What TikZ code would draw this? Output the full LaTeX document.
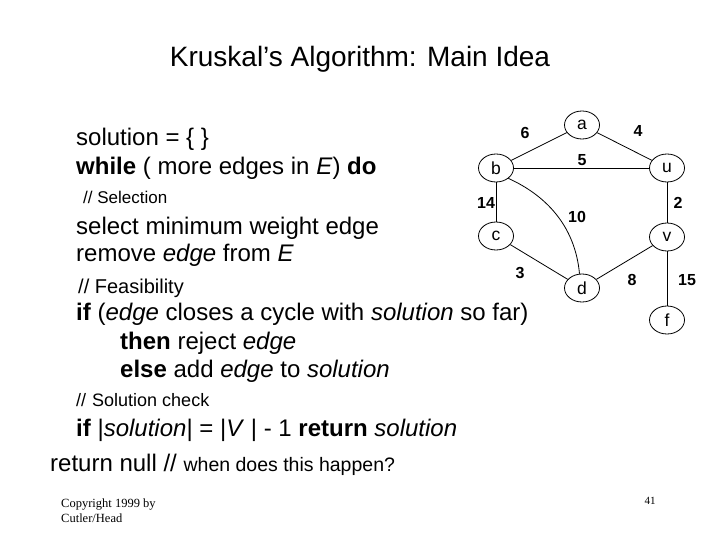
\documentclass[tikz,border=0pt]{standalone}
\usepackage{fontspec}
\setmainfont{Liberation Sans}
\newfontfamily\timesf{Liberation Serif}
\usetikzlibrary{shapes.geometric}
\tikzset{
  vert/.style={ellipse,draw,line width=0.8pt,minimum width=35pt,minimum height=28pt,inner sep=0pt,font=\fontsize{17.5}{19}\selectfont},
  wt/.style={font=\fontsize{16}{18}\selectfont\bfseries,inner sep=0pt},
  edg/.style={line width=0.8pt},
  code/.style={anchor=base west,inner sep=0pt,font=\fontsize{24}{28}\selectfont},
  cmt/.style={anchor=base west,inner sep=0pt,font=\fontsize{17}{20}\selectfont},
  ttl/.style={anchor=base,inner sep=0pt,font=\fontsize{28}{32}\selectfont},
  small/.style={anchor=base west,inner sep=0pt,align=left,font=\timesf\fontsize{12.5}{15}\selectfont}
}
\begin{document}
\begin{tikzpicture}[x=1pt,y=-1pt]
\useasboundingbox (0,0) rectangle (720,540);
% title
\node[ttl] (title) at (360,67) {Kruskal's Algorithm: Main Idea};
% code
\node[code] (l1) at (76,146) {solution = \{ \}};
\node[code] (l2) at (76,175) {\textbf{while} ( more edges in \textit{E}) \textbf{do}};
\node[cmt] (l3) at (83,204) {// Selection};
\node[code] (l4) at (76,234) {select minimum weight edge};
\node[code] (l5) at (76,261) {remove \textit{edge} from \textit{E}};
\node[cmt,font=\fontsize{20}{22}\selectfont] (l6) at (78,293) {// Feasibility};
\node[code] (l7) at (76,320) {\textbf{if} (\textit{edge} closes a cycle with \textit{solution} so far)};
\node[code] (l8) at (120,349) {\textbf{then} reject \textit{edge}};
\node[code] (l9) at (120,377) {\textbf{else} add \textit{edge} to \textit{solution}};
\node[cmt,font=\fontsize{18}{20}\selectfont] (l10) at (76,406) {//\hspace{6pt}Solution check};
\node[code] (l11) at (76,436) {\textbf{if} |\textit{solution}| = |\textit{V} | - 1 \textbf{return} \textit{solution}};
\node[code] (l12) at (50,471) {return null // {\fontsize{19.5}{22}\selectfont when does this happen?}};
\node[small] (copy) at (61,522) {Copyright 1999 by\\Cutler/Head};
\node[inner sep=0pt,font=\timesf\fontsize{11}{13}\selectfont] (pg) at (650,501) {41};
% graph
\node[vert] (a) at (582,125) {a};
\node[vert] (b) at (496,168) {b};
\node[vert] (u) at (667,168) {u};
\node[vert] (c) at (496,236) {c};
\node[vert] (v) at (667,237) {v};
\node[vert] (d) at (582,288) {d};
\node[vert] (f) at (667,320) {f};
\draw[edg] (b) -- (a);
\draw[edg] (a) -- (u);
\draw[edg] (b) -- (u);
\draw[edg] (b) -- (c);
\draw[edg] (u) -- (v);
\draw[edg] (c) -- (d);
\draw[edg] (d) -- (v);
\draw[edg] (v) -- (f);
\draw[edg] (b.-40) .. controls (545,195) and (575,225) .. (d.100);
\node[wt] (w6) at (525,133) {6};
\node[wt] (w4) at (638,131) {4};
\node[wt] (w5) at (582,160) {5};
\node[wt] (w14) at (486,203) {14};
\node[wt] (w10) at (577,217) {10};
\node[wt] (w2) at (678,203) {2};
\node[wt] (w3) at (520,273) {3};
\node[wt] (w8) at (632,280) {8};
\node[wt] (w15) at (687,280) {15};
\end{tikzpicture}
\end{document}
